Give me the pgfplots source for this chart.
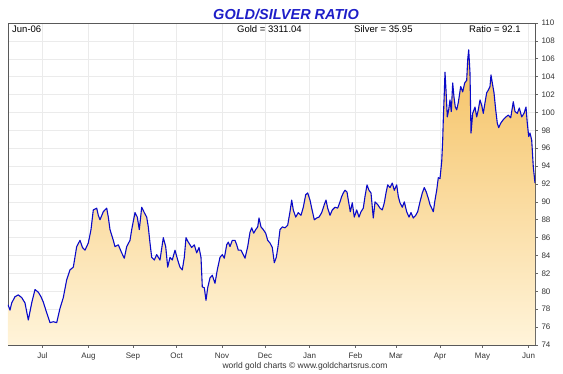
\documentclass[border=0pt]{standalone}
\usepackage{pgfplots}
\usepackage{pgfplotstable}
\pgfplotsset{compat=1.18}
\usepackage{fontspec}
\setmainfont{Liberation Sans}
\definecolor{ttl}{RGB}{30,30,200}
\definecolor{ln}{RGB}{10,10,200}
\definecolor{ftop}{RGB}{245,193,98}
\definecolor{fbot}{RGB}{255,244,218}
\pgfplotstableread{
x y
8 78.5
10 77.9
11.7 78.7
15 79.4
18.3 79.6
21.7 79.3
25 78.7
28.3 76.8
31.7 78.7
35 80.2
38.3 79.9
41 79.4
43.3 78.8
46.7 77.6
50 76.5
53.3 76.6
56.7 76.5
60 78.1
63.3 79.3
66.7 81.3
70 82.4
73.3 82.7
76.7 85.0
80 85.7
82.5 84.9
85 84.6
88.3 85.4
91 86.9
93.3 89.1
96.7 89.3
98.3 88.5
100 88.0
103.3 88.9
106.7 89.3
108.3 88.3
110 86.9
113.3 85.7
115 85.0
118.3 85.2
121.7 84.3
124.3 83.7
126.7 85.0
130 85.7
131.7 86.9
135 88.8
137.3 88.3
139.3 86.9
141.7 89.4
144.3 88.8
146.7 88.3
148.3 87.2
150 85.4
151.7 83.8
154.3 83.5
156.7 84.1
160 83.5
163.3 86.0
165.7 85.0
167.7 82.7
170 83.8
172.3 83.5
175 84.6
177.7 83.5
180 82.7
182.3 82.4
184.3 83.8
186 86.0
188.3 85.5
191.7 84.9
194.3 85.2
196.7 84.3
199 84.9
201 83.8
202.3 80.5
204.3 80.4
206 79.0
207.7 80.4
210 81.5
212.3 81.8
215 80.9
217.3 82.4
220 83.8
222.3 84.1
224.3 83.7
226.7 85.2
228.3 85.5
230 85.0
232.3 85.7
235 85.7
236.7 85.2
238.3 84.6
241 84.6
243.3 84.1
245 83.7
247.7 85.0
250 86.6
251.7 87.1
253.7 86.5
255.7 86.9
257.7 87.2
259 88.2
261 87.2
263.3 86.9
265.7 86.5
267.7 85.7
270 85.4
272.3 84.9
274.3 83.2
276.3 83.8
278 85.0
280 86.9
282.3 87.2
285 87.1
287.7 87.4
290 88.9
291.7 90.2
293.3 89.1
295.7 88.3
298.3 88.8
301 88.5
303.3 89.4
305.7 90.8
307.7 91.0
310 90.2
311.7 89.3
314.3 88.0
316.7 88.2
319 88.3
321.7 88.8
324.3 89.7
326 90.2
327.7 89.3
330 88.5
332.3 89.1
335 89.4
337.7 89.3
340 90.0
341.7 90.6
343.3 91.0
345 91.3
347 91.1
348.3 90.2
350.3 88.9
352.3 89.9
354.3 88.3
356.7 89.1
359 88.3
361 88.9
363.3 89.3
365 90.6
367 91.9
369 91.3
371 91.0
372.3 89.4
373.3 88.2
375 90.0
377.7 89.7
380 89.3
382.3 89.1
384.3 89.9
386 91.0
387.7 91.9
390 91.6
392.3 92.1
394.3 91.3
396.7 91.9
398.3 90.6
400 89.9
402.3 89.4
404.3 90.0
406.7 88.9
409 88.3
411 88.8
413.3 88.2
415.7 88.5
417.7 88.9
420 90.0
422.3 91.0
424.3 91.6
426.3 91.1
428.3 90.4
430 89.7
431.7 89.3
433.3 88.9
435 90.2
436.7 91.3
438.3 92.7
440 92.6
441.7 94.5
442.7 96.9
443.3 99.2
444.3 102.2
445 104.5
446 102.5
447.3 99.5
448.7 100.3
450 101.4
451.3 100.1
452.7 103.3
454 101.7
455.3 100.6
456.7 100.3
458.3 101.1
460.7 102.9
462.7 102.3
464.7 103.3
466.7 103.6
467.7 105.9
468.7 107.0
470 104.4
471 97.7
472.7 99.9
475 100.6
476.7 99.5
478.3 100.3
480 101.4
481.7 100.8
483.3 99.9
485 101.1
486.7 102.2
488.3 102.5
490 102.9
491 104.2
492.3 103.3
494 102.2
495.7 100.3
497.3 98.8
498.7 98.3
500.7 98.8
503.3 99.2
506 99.5
508.3 99.7
510.7 99.4
513.3 101.2
515 100.1
517.3 99.9
519.3 100.5
521.7 99.5
524 99.9
526 100.6
527.3 98.8
528.7 97.3
530 97.7
531.7 96.9
533.3 93.9
535 92.1
}\ratiodata
\begin{document}
\begin{tikzpicture}
\useasboundingbox (0,0) rectangle (563pt,374pt);
\begin{axis}[
  at={(8pt,29pt)}, anchor=south west,
  width=527pt, height=322pt, scale only axis,
  xmin=8, xmax=535, ymin=74, ymax=110,
  xtick={42.5,88.5,133,176.5,222,265,309.5,355.5,396,440,482.5,528.5},
  xticklabels={Jul,Aug,Sep,Oct,Nov,Dec,Jan,Feb,Mar,Apr,May,Jun},
  ytick={74,76,...,110},
  xtick pos=bottom, ytick pos=right, yticklabel pos=right,
  tick align=outside, major tick length=3pt,
  tick style={draw=black!60, line width=0.6pt},
  grid=major, grid style={draw=black!8, line width=0.5pt},
  axis line style={draw=black!65, line width=0.8pt},
  ticklabel style={font=\fontsize{8}{9}\selectfont, text=black!80},
  xticklabel style={yshift=-1pt},
  /pgf/number format/assume math mode=true,
]
\addplot[draw=none, top color=ftop, bottom color=fbot] table {\ratiodata} \closedcycle;
\addplot[ln, line width=1.1pt, line join=round] table {\ratiodata};
\end{axis}
\node[font=\fontsize{14.5}{16}\selectfont\bfseries\itshape, text=ttl] at (286pt,360pt) {GOLD/SILVER RATIO};
\node[font=\fontsize{9.5}{11}\selectfont, anchor=west, inner sep=0pt] at (12pt,345pt) {Jun-06};
\node[font=\fontsize{9.5}{11}\selectfont, anchor=west, inner sep=0pt] at (237pt,345pt) {Gold = 3311.04};
\node[font=\fontsize{9.5}{11}\selectfont, anchor=west, inner sep=0pt] at (354pt,345pt) {Silver = 35.95};
\node[font=\fontsize{9.5}{11}\selectfont, anchor=west, inner sep=0pt] at (469pt,345pt) {Ratio = 92.1};
\node[font=\fontsize{8.5}{10}\selectfont, text=black!80] at (305pt,8pt) {world gold charts © www.goldchartsrus.com};
\end{tikzpicture}
\end{document}
